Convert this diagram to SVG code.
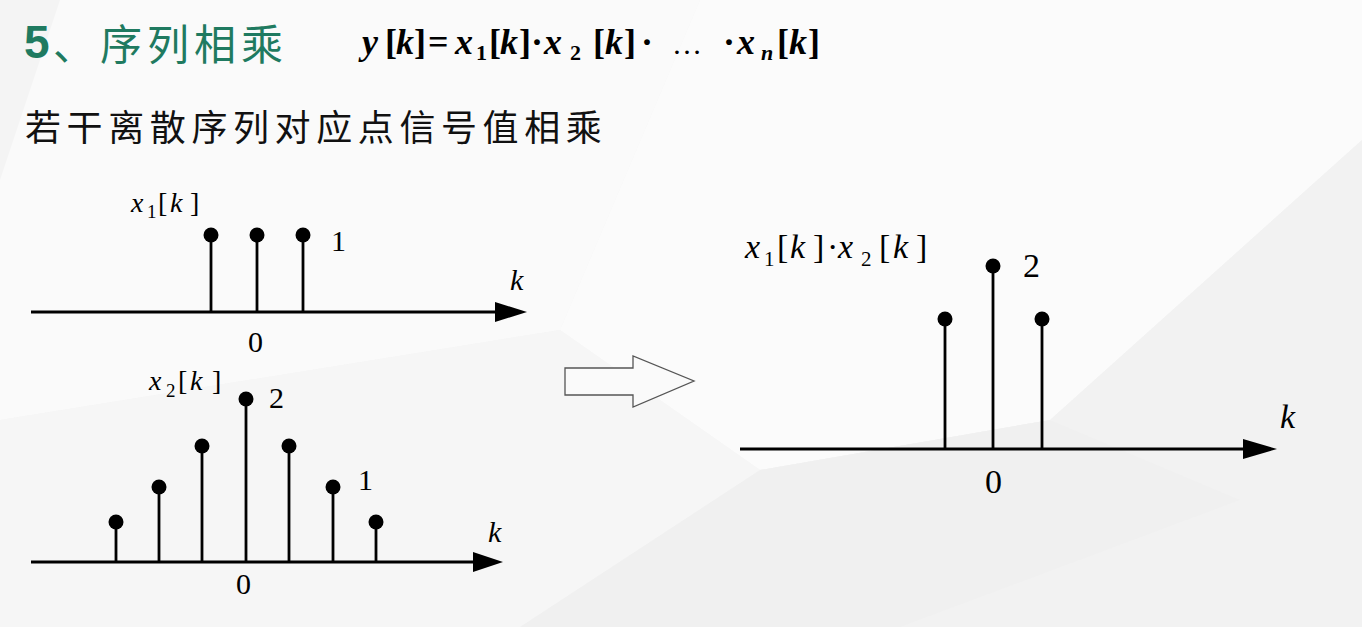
<svg xmlns="http://www.w3.org/2000/svg" width="1362" height="627" viewBox="0 0 1362 627">
<style>
.ax{stroke:#000;stroke-width:3;fill:none}
.st{stroke:#000;stroke-width:2.8;fill:none}
.dot{fill:#000}
.ah{fill:#000}
.s{font-family:'Liberation Serif',serif !important;fill:#000}
.i{font-style:italic}
.b{font-weight:bold}
</style>
<g id="background">
<rect x="0" y="0" width="1362" height="627" fill="#f4f4f4"/>
<polygon points="60,0 700,0 560,330 0,420 0,180" fill="#fafafa"/>
<polygon points="700,0 1362,0 1362,140 1050,420 760,470 560,330" fill="#fbfbfb"/>
<polygon points="0,420 560,330 760,470 520,627 0,627" fill="#f6f6f6"/>
<polygon points="1050,420 1362,140 1362,627 900,627 760,470" fill="#f2f2f2"/>
<polygon points="760,470 1050,420 1240,500 900,627 520,627" fill="#f0f0f0"/>
</g>
<g id="title">
<text x="24" y="58" font-family="Liberation Sans" font-weight="bold" font-size="46" fill="#1f7a60">5</text>
<text x="53" y="60" font-family="Noto Sans CJK SC" font-size="42" letter-spacing="5" fill="#1f7a60">、序列相乘</text>
</g>
<g id="formula" font-size="36">
<text class="s b i" x="362" y="54"><tspan class="s" style="font-family:'Liberation Serif'">y</tspan></text>
<text class="s b" x="385" y="54"><tspan class="s" style="font-family:'Liberation Serif'">[</tspan></text>
<text class="s b i" x="396" y="54"><tspan class="s" style="font-family:'Liberation Serif'">k</tspan></text>
<text class="s b" x="414" y="54"><tspan class="s" style="font-family:'Liberation Serif'">]</tspan></text>
<text class="s b" x="428" y="54"><tspan class="s" style="font-family:'Liberation Serif'">=</tspan></text>
<text class="s b i" x="455" y="54"><tspan class="s" style="font-family:'Liberation Serif'">x</tspan></text>
<text class="s b" x="476" y="60" font-size="22"><tspan class="s" style="font-family:'Liberation Serif'">1</tspan></text>
<text class="s b" x="489" y="54"><tspan class="s" style="font-family:'Liberation Serif'">[</tspan></text>
<text class="s b i" x="500" y="54"><tspan class="s" style="font-family:'Liberation Serif'">k</tspan></text>
<text class="s b" x="519" y="54"><tspan class="s" style="font-family:'Liberation Serif'">]</tspan></text>
<text class="s b" x="531" y="54"><tspan class="s" style="font-family:'Liberation Serif'">·</tspan></text>
<text class="s b i" x="544" y="54"><tspan class="s" style="font-family:'Liberation Serif'">x</tspan></text>
<text class="s b" x="570" y="60" font-size="22"><tspan class="s" style="font-family:'Liberation Serif'">2</tspan></text>
<text class="s b" x="593" y="54"><tspan class="s" style="font-family:'Liberation Serif'">[</tspan></text>
<text class="s b i" x="605" y="54"><tspan class="s" style="font-family:'Liberation Serif'">k</tspan></text>
<text class="s b" x="624" y="54"><tspan class="s" style="font-family:'Liberation Serif'">]</tspan></text>
<text class="s b" x="641" y="54"><tspan class="s" style="font-family:'Liberation Serif'">·</tspan></text>
<text class="s" x="672" y="54" font-size="30"><tspan class="s" style="font-family:'Liberation Serif'">…</tspan></text>
<text class="s b" x="723" y="54"><tspan class="s" style="font-family:'Liberation Serif'">·</tspan></text>
<text class="s b i" x="737" y="54"><tspan class="s" style="font-family:'Liberation Serif'">x</tspan></text>
<text class="s b i" x="761" y="60" font-size="22"><tspan class="s" style="font-family:'Liberation Serif'">n</tspan></text>
<text class="s b" x="777" y="54"><tspan class="s" style="font-family:'Liberation Serif'">[</tspan></text>
<text class="s b i" x="789" y="54"><tspan class="s" style="font-family:'Liberation Serif'">k</tspan></text>
<text class="s b" x="808" y="54"><tspan class="s" style="font-family:'Liberation Serif'">]</tspan></text>
</g>
<g id="subtitle">
<text x="25" y="141" font-family="Noto Sans CJK SC" font-size="36" letter-spacing="5.6" fill="#111">若干离散序列对应点信号值相乘</text>
</g>
<g id="graph-x1">
<line class="ax" x1="31" y1="312" x2="500" y2="312"/>
<polygon class="ah" points="495,302 527,312 495,322"/>
<line class="st" x1="211" y1="312" x2="211" y2="235"/>
<line class="st" x1="257" y1="312" x2="257" y2="235"/>
<line class="st" x1="303" y1="312" x2="303" y2="235"/>
<circle class="dot" cx="211" cy="235" r="7.5"/>
<circle class="dot" cx="257" cy="235" r="7.5"/>
<circle class="dot" cx="303" cy="235" r="7.5"/>
<text class="s i" font-size="28" x="131" y="212"><tspan class="s" style="font-family:'Liberation Serif'">x</tspan></text>
<text class="s" font-size="19" x="147" y="218"><tspan class="s" style="font-family:'Liberation Serif'">1</tspan></text>
<text class="s" font-size="28" x="158" y="212"><tspan class="s" style="font-family:'Liberation Serif'">[</tspan></text>
<text class="s i" font-size="28" x="170" y="212"><tspan class="s" style="font-family:'Liberation Serif'">k</tspan></text>
<text class="s" font-size="28" x="190" y="212"><tspan class="s" style="font-family:'Liberation Serif'">]</tspan></text>
<text class="s" font-size="30" x="331" y="251"><tspan class="s" style="font-family:'Liberation Serif'">1</tspan></text>
<text class="s i" font-size="30" x="510" y="290"><tspan class="s" style="font-family:'Liberation Serif'">k</tspan></text>
<text class="s" font-size="30" x="248" y="352"><tspan class="s" style="font-family:'Liberation Serif'">0</tspan></text>
</g>
<g id="graph-x2">
<line class="ax" x1="31" y1="562" x2="478" y2="562"/>
<polygon class="ah" points="473,552 503,562 473,572"/>
<line class="st" x1="116" y1="562" x2="116" y2="522"/>
<line class="st" x1="159" y1="562" x2="159" y2="487"/>
<line class="st" x1="202" y1="562" x2="202" y2="446"/>
<line class="st" x1="246" y1="562" x2="246" y2="399"/>
<line class="st" x1="289" y1="562" x2="289" y2="446"/>
<line class="st" x1="333" y1="562" x2="333" y2="487"/>
<line class="st" x1="376" y1="562" x2="376" y2="522"/>
<circle class="dot" cx="116" cy="522" r="7.5"/>
<circle class="dot" cx="159" cy="487" r="7.5"/>
<circle class="dot" cx="202" cy="446" r="7.5"/>
<circle class="dot" cx="246" cy="399" r="7.5"/>
<circle class="dot" cx="289" cy="446" r="7.5"/>
<circle class="dot" cx="333" cy="487" r="7.5"/>
<circle class="dot" cx="376" cy="522" r="7.5"/>
<text class="s i" font-size="28" x="149" y="390"><tspan class="s" style="font-family:'Liberation Serif'">x</tspan></text>
<text class="s" font-size="19" x="166" y="397"><tspan class="s" style="font-family:'Liberation Serif'">2</tspan></text>
<text class="s" font-size="28" x="178" y="390"><tspan class="s" style="font-family:'Liberation Serif'">[</tspan></text>
<text class="s i" font-size="28" x="190" y="390"><tspan class="s" style="font-family:'Liberation Serif'">k</tspan></text>
<text class="s" font-size="28" x="212" y="390"><tspan class="s" style="font-family:'Liberation Serif'">]</tspan></text>
<text class="s" font-size="30" x="269" y="408"><tspan class="s" style="font-family:'Liberation Serif'">2</tspan></text>
<text class="s" font-size="30" x="358" y="490"><tspan class="s" style="font-family:'Liberation Serif'">1</tspan></text>
<text class="s i" font-size="30" x="488" y="542"><tspan class="s" style="font-family:'Liberation Serif'">k</tspan></text>
<text class="s" font-size="30" x="236" y="594"><tspan class="s" style="font-family:'Liberation Serif'">0</tspan></text>
</g>
<g id="arrow">
<polygon points="565,368 633,368 633,356 694,381 633,407 633,395 565,395" fill="#fafafa" stroke="#555" stroke-width="1.3"/>
</g>
<g id="graph-product">
<line class="ax" x1="740" y1="449" x2="1248" y2="449"/>
<polygon class="ah" points="1243,439 1277,449 1243,459"/>
<line class="st" x1="945" y1="449" x2="945" y2="319"/>
<line class="st" x1="993" y1="449" x2="993" y2="266"/>
<line class="st" x1="1042" y1="449" x2="1042" y2="319"/>
<circle class="dot" cx="945" cy="319" r="7.5"/>
<circle class="dot" cx="993" cy="266" r="7.5"/>
<circle class="dot" cx="1042" cy="319" r="7.5"/>
<text class="s i" font-size="34" x="745" y="258"><tspan class="s" style="font-family:'Liberation Serif'">x</tspan></text>
<text class="s" font-size="21" x="764" y="266"><tspan class="s" style="font-family:'Liberation Serif'">1</tspan></text>
<text class="s" font-size="34" x="777" y="258"><tspan class="s" style="font-family:'Liberation Serif'">[</tspan></text>
<text class="s i" font-size="34" x="790" y="258"><tspan class="s" style="font-family:'Liberation Serif'">k</tspan></text>
<text class="s" font-size="34" x="813" y="258"><tspan class="s" style="font-family:'Liberation Serif'">]</tspan></text>
<text class="s" font-size="34" x="827" y="258"><tspan class="s" style="font-family:'Liberation Serif'">·</tspan></text>
<text class="s i" font-size="34" x="838" y="258"><tspan class="s" style="font-family:'Liberation Serif'">x</tspan></text>
<text class="s" font-size="21" x="861" y="266"><tspan class="s" style="font-family:'Liberation Serif'">2</tspan></text>
<text class="s" font-size="34" x="879" y="258"><tspan class="s" style="font-family:'Liberation Serif'">[</tspan></text>
<text class="s i" font-size="34" x="893" y="258"><tspan class="s" style="font-family:'Liberation Serif'">k</tspan></text>
<text class="s" font-size="34" x="916" y="258"><tspan class="s" style="font-family:'Liberation Serif'">]</tspan></text>
<text class="s" font-size="34" x="1023" y="277"><tspan class="s" style="font-family:'Liberation Serif'">2</tspan></text>
<text class="s i" font-size="34" x="1280" y="428"><tspan class="s" style="font-family:'Liberation Serif'">k</tspan></text>
<text class="s" font-size="34" x="985" y="493"><tspan class="s" style="font-family:'Liberation Serif'">0</tspan></text>
</g>
</svg>
